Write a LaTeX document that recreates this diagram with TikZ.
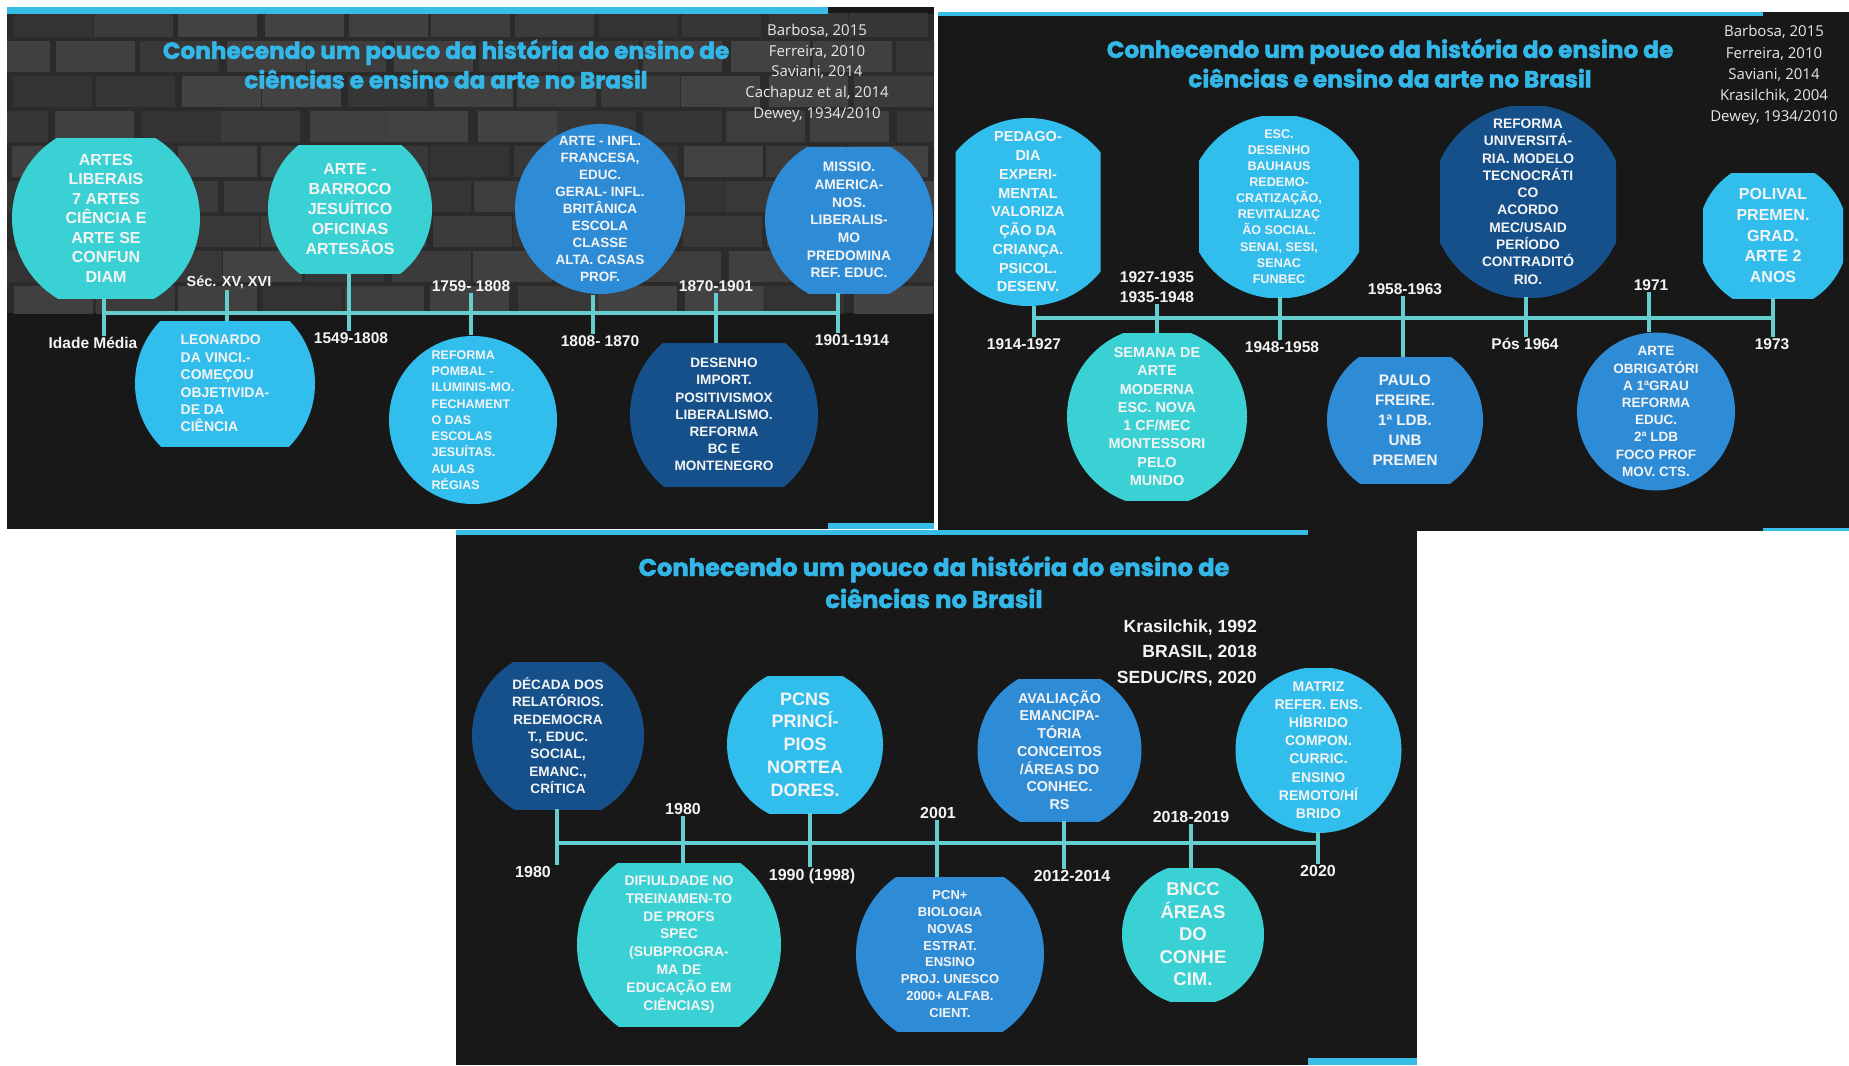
\documentclass[tikz,border=0pt]{standalone}
\usepackage{fontspec}
\setmainfont{Liberation Sans}
\newfontfamily\titlefont{Poppins}[BoldFeatures={FakeBold=2}]
\newfontfamily\citefont{Open Sans}
\definecolor{turq}{RGB}{58,209,212}
\definecolor{sky}{RGB}{50,190,236}
\definecolor{mid}{RGB}{46,139,214}
\definecolor{dkb}{RGB}{21,80,138}
\definecolor{ttl}{RGB}{50,183,232}
\definecolor{tlc}{RGB}{99,206,205}
\definecolor{barc}{RGB}{56,190,230}
\definecolor{bgc}{RGB}{24,24,24}
\definecolor{ntext}{RGB}{244,244,244}
\definecolor{citec}{RGB}{232,232,232}
\begin{document}
\begin{tikzpicture}[x=1pt,y=-1pt,
  bub/.style n args={4}{rectangle, inner sep=0pt, minimum width=#2, minimum height=#3,
     path picture={\fill[#1] (path picture bounding box.center) circle[radius=#4];},
     text=ntext, align=center},
  fs/.style 2 args={font=\fontsize{#1}{#2}\selectfont\bfseries},
  lab/.style={text=ntext, font=\fontsize{15.5}{18}\selectfont\bfseries, inner sep=1pt},
  labc/.style={text=ntext, font=\fontsize{16}{18}\selectfont\bfseries, inner sep=1pt},
  tk/.style={draw=tlc, line width=4pt},
  ttlnode/.style={text=ttl, align=center, inner sep=0pt},
  cite/.style={text=citec, align=center, inner sep=0pt, font=\citefont\fontsize{15}{20.6}\selectfont}
]
\useasboundingbox (0,0) rectangle (1849,1065);
\fill[white] (0,0) rectangle (1849,1065);

% ================= PANEL 1 =================
\fill[bgc] (7,7) rectangle (934,529);
\begin{scope}
  \clip (7,14) rectangle (934,313);
  \fill[white!17!black] (7,14) rectangle (934,313);
  \pgfmathsetseed{7}
  \foreach \r in {0,...,9}{
    \foreach \c in {0,...,11}{
      \pgfmathsetmacro\bx{7-40*mod(\r,2)+\c*84+6*rnd}
      \pgfmathsetmacro\by{4+\r*35}
      \pgfmathtruncatemacro\sh{20+7*rnd}
      \fill[white!\sh!black] (\bx+2,\by+2) rectangle (\bx+81,\by+33);
    }
  }
\end{scope}
\fill[barc] (7,7) rectangle (828,14);
\fill[barc] (828,523) rectangle (934,529);

\node[ttlnode, font=\titlefont\bfseries\fontsize{23.2}{29.5}\selectfont] (t1) at (446,64)
  {Conhecendo um pouco da história do ensino de\\ciências e ensino da arte no Brasil};
\node[cite] (c1) at (817,73)
  {Barbosa, 2015\\Ferreira, 2010\\Saviani, 2014\\Cachapuz et al, 2014\\Dewey, 1934/2010};

\coordinate (p1t1) at (104,313);
\coordinate (p1t2) at (227,313);
\coordinate (p1t3) at (349,313);
\coordinate (p1t4) at (471,313);
\coordinate (p1t5) at (593,313);
\coordinate (p1t6) at (716,313);
\coordinate (p1t7) at (838,313);

\node[bub={turq}{188}{160}{94}, fs={16}{19.5}] (a1) at (106,218)
  {ARTES\\LIBERAIS\\7 ARTES\\CIÊNCIA E\\ARTE SE\\CONFUN\\DIAM};
\node[bub={sky}{180}{125}{90}, fs={14}{17.4}, align=left] (a2) at (225,383.5)
  {LEONARDO\\DA VINCI.-\\COMEÇOU\\OBJETIVIDA-\\DE DA\\CIÊNCIA};
\node[bub={turq}{164}{128}{82}, fs={16}{20}] (a3) at (350,209)
  {ARTE -\\BARROCO\\JESUÍTICO\\OFICINAS\\ARTESÃOS};
\node[bub={sky}{168}{170}{84}, fs={12.5}{16.25}, align=left] (a4) at (473,420)
  {REFORMA\\POMBAL -\\ILUMINIS-MO.\\FECHAMENT\\O DAS\\ESCOLAS\\JESUÍTAS.\\AULAS\\RÉGIAS};
\node[bub={mid}{170}{172}{85}, fs={13.5}{17.1}] (a5) at (600,209)
  {ARTE - INFL.\\FRANCESA,\\EDUC.\\GERAL- INFL.\\BRITÂNICA\\ESCOLA\\CLASSE\\ALTA. CASAS\\PROF.};
\node[bub={mid}{168}{146}{84}, fs={13.8}{17.7}] (a6) at (849,220)
  {MISSIO.\\AMERICA-\\NOS.\\LIBERALIS-\\MO\\PREDOMINA\\REF. EDUC.};
\node[bub={dkb}{188}{143}{94}, fs={13.6}{17.1}] (a7) at (724,414.5)
  {DESENHO\\IMPORT.\\POSITIVISMOX\\LIBERALISMO.\\REFORMA\\BC E\\MONTENEGRO};

\node[lab] (l11) at (93,343) {Idade Média};
\node[lab, font=\fontsize{14.5}{17}\selectfont\bfseries] (l12) at (229,282) {Séc. XV, XVI};
\node[lab] (l13) at (351,338) {1549-1808};
\node[lab] (l14) at (471,286) {1759- 1808};
\node[lab] (l15) at (600,341) {1808- 1870};
\node[lab] (l16) at (716,286) {1870-1901};
\node[lab] (l17) at (852,340) {1901-1914};

\draw[tk] (p1t1) -- (p1t7);
\draw[tk] (a1.south -| p1t1) -- (l11.north -| p1t1);
\draw[tk] (l12.south -| p1t2) -- (a2.north -| p1t2);
\draw[tk] (a3.south -| p1t3) -- (l13.north -| p1t3);
\draw[tk] (l14.south -| p1t4) -- (a4.north -| p1t4);
\draw[tk] (a5.south -| p1t5) -- (l15.north -| p1t5);
\draw[tk] (l16.south -| p1t6) -- (a7.north -| p1t6);
\draw[tk] (a6.south -| p1t7) -- (l17.north -| p1t7);

% ================= PANEL 2 =================
\fill[bgc] (938,12) rectangle (1849,531);
\fill[barc] (938,12) rectangle (1763,16);
\fill[barc] (1763,528) rectangle (1849,531);

\node[ttlnode, font=\titlefont\bfseries\fontsize{23.2}{29.5}\selectfont] (t2) at (1390,63)
  {Conhecendo um pouco da história do ensino de\\ciências e ensino da arte no Brasil};
\node[cite, font=\citefont\fontsize{15}{21.2}\selectfont] (c2) at (1774,75.5)
  {Barbosa, 2015\\Ferreira, 2010\\Saviani, 2014\\Krasilchik, 2004\\Dewey, 1934/2010};

\coordinate (p2t1) at (1034,318);
\coordinate (p2t2) at (1157,318);
\coordinate (p2t3) at (1280,318);
\coordinate (p2t4) at (1403,318);
\coordinate (p2t5) at (1526,318);
\coordinate (p2t6) at (1649,318);
\coordinate (p2t7) at (1773,318);

\node[bub={sky}{145}{188}{94}, fs={14.5}{18.75}] (b1) at (1028,212)
  {PEDAGO-\\DIA\\EXPERI-\\MENTAL\\VALORIZA\\ÇÃO DA\\CRIANÇA.\\PSICOL.\\DESENV.};
\node[bub={turq}{180}{167}{90}, fs={14.4}{18.3}] (b2) at (1157,416.5)
  {SEMANA DE\\ARTE\\MODERNA\\ESC. NOVA\\1 CF/MEC\\MONTESSORI\\PELO\\MUNDO};
\node[bub={sky}{160}{181}{92}, fs={12.6}{16.1}] (b3) at (1279,206.5)
  {ESC.\\DESENHO\\BAUHAUS\\REDEMO-\\CRATIZAÇÃO,\\REVITALIZAÇ\\ÃO SOCIAL.\\SENAI, SESI,\\SENAC\\FUNBEC};
\node[bub={mid}{156}{126}{78}, fs={15.2}{20}] (b4) at (1405,420)
  {PAULO\\FREIRE.\\1ª LDB.\\UNB\\PREMEN};
\node[bub={dkb}{176}{191}{97}, fs={13.8}{17.3}] (b5) at (1528,201.5)
  {REFORMA\\UNIVERSITÁ-\\RIA. MODELO\\TECNOCRÁTI\\CO\\ACORDO\\MEC/USAID\\PERÍODO\\CONTRADITÓ\\RIO.};
\node[bub={mid}{158}{158}{79}, fs={13.5}{17.2}] (b6) at (1656,411.5)
  {ARTE\\OBRIGATÓRI\\A 1ªGRAU\\REFORMA\\EDUC.\\2ª LDB\\FOCO PROF\\MOV. CTS.};
\node[bub={sky}{140}{125}{75}, fs={16}{20.7}] (b7) at (1773,235.5)
  {POLIVAL\\PREMEN.\\GRAD.\\ARTE 2\\ANOS};

\node[lab] (l21) at (1024,344) {1914-1927};
\node[lab] (l22a) at (1157,277) {1927-1935};
\node[lab] (l22b) at (1157,297) {1935-1948};
\node[lab] (l23) at (1282,347) {1948-1958};
\node[lab] (l24) at (1405,289) {1958-1963};
\node[lab] (l25) at (1525,344) {Pós 1964};
\node[lab] (l26) at (1651,285) {1971};
\node[lab] (l27) at (1772,344) {1973};

\draw[tk] (p2t1) -- (p2t7);
\draw[tk] (b1.south -| p2t1) -- (l21.north -| p2t1);
\draw[tk] (l22b.south -| p2t2) -- (b2.north -| p2t2);
\draw[tk] (b3.south -| p2t3) -- (l23.north -| p2t3);
\draw[tk] (l24.south -| p2t4) -- (b4.north -| p2t4);
\draw[tk] (b5.south -| p2t5) -- (l25.north -| p2t5);
\draw[tk] (l26.south -| p2t6) -- (b6.north -| p2t6);
\draw[tk] (b7.south -| p2t7) -- (l27.north -| p2t7);

% ================= PANEL 3 =================
\fill[bgc] (456,530) rectangle (1417,1065);
\fill[barc] (456,530) rectangle (1308,535);
\fill[barc] (1308,1058) rectangle (1417,1065);

\node[ttlnode, font=\titlefont\bfseries\fontsize{24.2}{32}\selectfont] (t3) at (934,582)
  {Conhecendo um pouco da história do ensino de\\ciências no Brasil};
\node[text=ntext, align=right, inner sep=0pt, anchor=east,
      font=\fontsize{17.6}{25.5}\selectfont\bfseries] (c3) at (1257,652.5)
  {Krasilchik, 1992\\BRASIL, 2018\\SEDUC/RS, 2020};

\coordinate (p3t1) at (557,843);
\coordinate (p3t2) at (683,843);
\coordinate (p3t3) at (810,843);
\coordinate (p3t4) at (937,843);
\coordinate (p3t5) at (1064,843);
\coordinate (p3t6) at (1191,843);
\coordinate (p3t7) at (1318,843);

\node[bub={dkb}{172}{147}{86}, fs={13.6}{17.3}] (k1) at (558,735.5)
  {DÉCADA DOS\\RELATÓRIOS.\\REDEMOCRA\\T., EDUC.\\SOCIAL,\\EMANC.,\\CRÍTICA};
\node[bub={turq}{204}{163}{102}, fs={13.9}{17.9}] (k2) at (679,944.5)
  {DIFIULDADE NO\\TREINAMEN-TO\\DE PROFS\\SPEC\\(SUBPROGRA-\\MA DE\\EDUCAÇÃO EM\\CIÊNCIAS)};
\node[bub={sky}{156}{137}{78}, fs={18}{22.75}] (k3) at (805,744.5)
  {PCNS\\PRINCÍ-\\PIOS\\NORTEA\\DORES.};
\node[bub={mid}{188}{154}{94}, fs={13}{16.8}] (k4) at (950,954)
  {PCN+\\BIOLOGIA\\NOVAS\\ESTRAT.\\ENSINO\\PROJ. UNESCO\\2000+ ALFAB.\\CIENT.};
\node[bub={mid}{164}{142}{82}, fs={14.3}{17.7}] (k5) at (1059.5,750)
  {AVALIAÇÃO\\EMANCIPA-\\TÓRIA\\CONCEITOS\\/ÁREAS DO\\CONHEC.\\RS};
\node[bub={turq}{142}{133}{71}, fs={18.5}{22.5}] (k6) at (1193,934.5)
  {BNCC\\ÁREAS\\DO\\CONHE\\CIM.};
\node[bub={sky}{166}{164}{83}, fs={14}{18.2}] (k7) at (1318.5,750)
  {MATRIZ\\REFER. ENS.\\HÍBRIDO\\COMPON.\\CURRIC.\\ENSINO\\REMOTO/HÍ\\BRIDO};

\node[labc] (l31) at (533,872) {1980};
\node[labc] (l32) at (683,809) {1980};
\node[labc] (l33) at (812,876) {1990 (1998)};
\node[labc] (l34) at (938,813) {2001};
\node[labc] (l35) at (1072,876) {2012-2014};
\node[labc] (l36) at (1191,817) {2018-2019};
\node[labc] (l37) at (1318,871) {2020};

\draw[tk] (p3t1) -- (p3t7);
\draw[tk] (k1.south -| p3t1) -- (l31.north -| p3t1);
\draw[tk] (l32.south -| p3t2) -- (k2.north -| p3t2);
\draw[tk] (k3.south -| p3t3) -- (l33.north -| p3t3);
\draw[tk] (l34.south -| p3t4) -- (k4.north -| p3t4);
\draw[tk] (k5.south -| p3t5) -- (l35.north -| p3t5);
\draw[tk] (l36.south -| p3t6) -- (k6.north -| p3t6);
\draw[tk] (k7.south -| p3t7) -- (l37.north -| p3t7);
\end{tikzpicture}
\end{document}
